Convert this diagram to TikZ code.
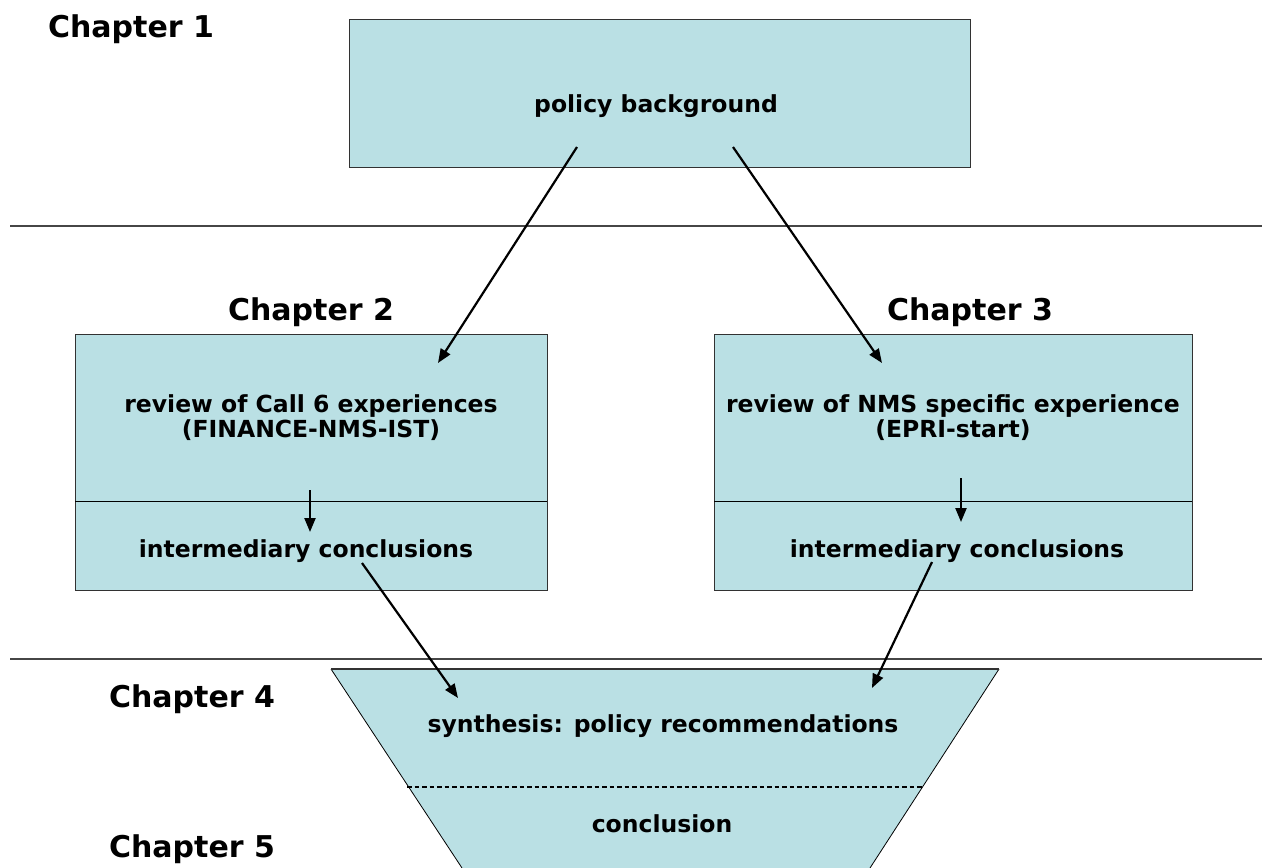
\documentclass[tikz,border=0pt]{standalone}
\usepackage{fontspec}
\setmainfont{DejaVu Sans}
\usetikzlibrary{arrows.meta,positioning}
\definecolor{chFill}{RGB}{186,224,228}
\definecolor{chEdge}{RGB}{50,50,50}
\definecolor{chRule}{RGB}{70,70,70}
\definecolor{chInk}{RGB}{0,0,0}
\tikzset{
  panel/.style={fill=chFill,draw=chEdge,line width=0.9pt},
  chlabel/.style={anchor=base,inner sep=0pt,font=\fontsize{30}{36}\selectfont\bfseries},
  boxtext/.style={anchor=base,inner sep=0pt,font=\fontsize{23.5}{26}\selectfont\bfseries},
  flow/.style={draw=chInk,line width=2.2pt,-{Triangle[length=14pt,width=11pt]}}
}

\begin{document}
\begin{tikzpicture}[x=1pt,y=-1pt]
  \useasboundingbox (0,0) rectangle (1262,868);
  % chapter rules
  \foreach \y in {226,659}{\draw[chRule,line width=1.5pt] (10,\y)--(1262,\y);}
  % boxes
  \draw[panel] (349,19) rectangle (970,167);
  \draw[panel] (75,334) rectangle (547,590);
  \draw[panel] (714,334) rectangle (1192,590);
  \draw[draw=chInk,line width=0.9pt] (75,501)--(547,501);
  \draw[draw=chInk,line width=0.9pt] (714,501)--(1192,501);
  % funnel
  \fill[chFill] (331,669)--(999,669)--(870,868)--(462,868)--cycle;
  \draw[draw=chInk,line width=0.8pt] (462,868)--(331,669);
  \draw[draw=chInk,line width=0.8pt] (999,669)--(870,868);
  \draw[chEdge,line width=1.2pt] (331,669)--(999,669);
  \draw[draw=chInk,line width=1.8pt,dash pattern=on 4.5pt off 3pt] (407,787)--(922,787);
  % labels
  \node[chlabel] (ch1) at (131,37) {Chapter 1};
  \node[chlabel] (ch2) at (311,320) {Chapter 2};
  \node[chlabel] (ch3) at (970,320) {Chapter 3};
  \node[chlabel] (ch4) at (192,707) {Chapter 4};
  \node[chlabel] (ch5) at (192,857) {Chapter 5};
  \node[boxtext] (bg) at (656,112) {policy background};
  \node[boxtext] (callA) at (311,412) {review of Call 6 experiences};
  \node[boxtext] (callB) at (311,437) {(FINANCE-NMS-IST)};
  \node[boxtext] (interL) at (306,557) {intermediary conclusions};
  \node[boxtext] (nmsA) at (953,412) {review of NMS specific experience};
  \node[boxtext] (nmsB) at (953,437) {(EPRI-start)};
  \node[boxtext] (interR) at (957,557) {intermediary conclusions};
  \node[boxtext] (synth) at (663,732) {synthesis: policy recommendations};
  \node[boxtext] (concl) at (662,832) {conclusion};
  % arrow ends
  \coordinate (bgL) at (577,147);
  \coordinate (bgR) at (733,147);
  \coordinate (callIn) at (438,363);
  \coordinate (nmsIn) at (882,363);
  \coordinate (callDn) at (310,490);
  \coordinate (interLup) at (310,532);
  \coordinate (nmsDn) at (961,478);
  \coordinate (interRup) at (961,522);
  \coordinate (interLout) at (362,563);
  \coordinate (interRout) at (932,562);
  \coordinate (synthL) at (458,698);
  \coordinate (synthR) at (872,688);
  \draw[flow] (bgL)--(callIn);
  \draw[flow] (bgR)--(nmsIn);
  \draw[flow] (callDn)--(interLup);
  \draw[flow] (nmsDn)--(interRup);
  \draw[flow] (interLout)--(synthL);
  \draw[flow] (interRout)--(synthR);
\end{tikzpicture}
\end{document}
